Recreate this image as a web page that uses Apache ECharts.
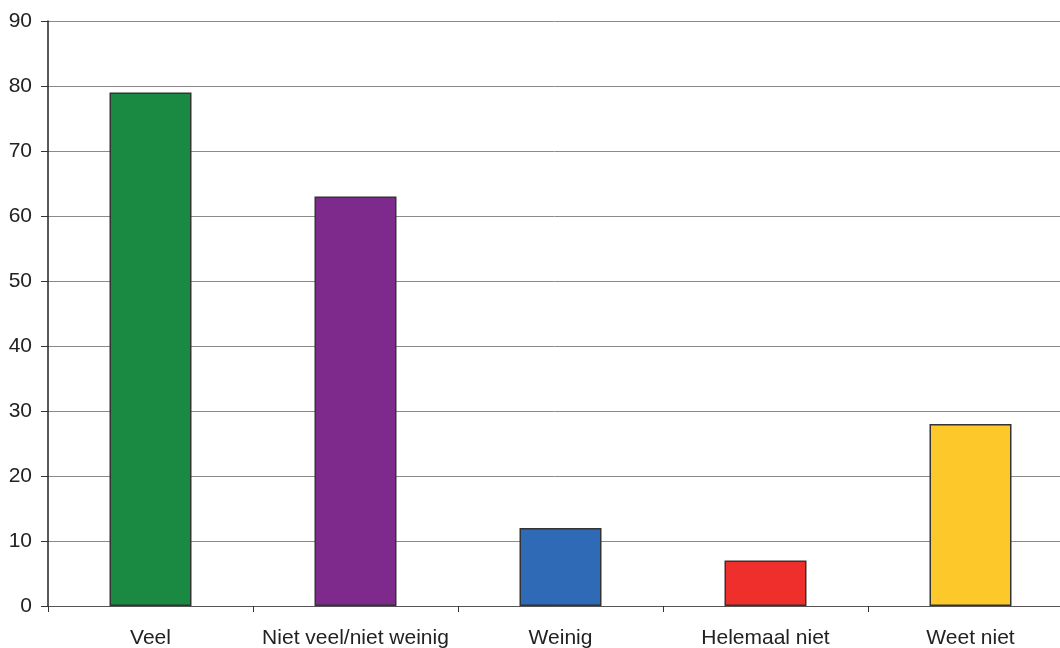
<!DOCTYPE html>
<html>
<head>
<meta charset="utf-8">
<script src="https://cdn.jsdelivr.net/npm/echarts@6/dist/echarts.min.js"></script>
<style>
html,body{margin:0;padding:0;background:#fff;}
#chart{width:1060px;height:648px;}
</style>
</head>
<body>
<div id="chart"></div>
<script>
const categories = ["Veel", "Niet veel/niet weinig", "Weinig", "Helemaal niet", "Weet niet"];
const values = [79, 63, 12, 7, 28];
const barColors = ["#1a8a42", "#7d2a8c", "#2e6ab5", "#ee2f2b", "#fdc82a"];
const yTicks = [0, 10, 20, 30, 40, 50, 60, 70, 80, 90];

const chart = echarts.init(document.getElementById('chart'), null, {renderer: 'canvas'});
chart.setOption({
  animation: false,
  backgroundColor: '#ffffff',
  textStyle: {fontFamily: 'Liberation Sans, Arial, sans-serif'},
  grid: {left: 48, top: 21, right: -13, bottom: 42, containLabel: false, outerBoundsMode: 'none'},
  xAxis: {
    type: 'category',
    data: categories,
    boundaryGap: true,
    axisLine: {show: true, lineStyle: {color: '#555', width: 1}},
    axisTick: {show: true, length: 6, alignWithLabel: false, lineStyle: {color: '#333'}},
    axisLabel: {interval: 0, color: '#222', fontSize: 21, margin: 22, fontFamily: 'Liberation Sans, Arial, sans-serif'},
    splitLine: {show: false}
  },
  yAxis: {
    type: 'value',
    min: yTicks[0],
    max: yTicks[yTicks.length - 1],
    interval: 10,
    axisLine: {show: true, lineStyle: {color: '#222', width: 1.5}},
    axisTick: {show: true, length: 7, inside: false, lineStyle: {color: '#333'}},
    axisLabel: {color: '#222', fontSize: 21, margin: 16, fontFamily: 'Liberation Sans, Arial, sans-serif'},
    splitLine: {show: true, lineStyle: {color: '#8a8a8a', width: 1}}
  },
  series: [{
    type: 'bar',
    barWidth: '40%',
    data: values.map((v, i) => ({
      value: v,
      itemStyle: {color: barColors[i], borderColor: '#333', borderWidth: 1.5}
    }))
  }]
});
</script>
</body>
</html>
